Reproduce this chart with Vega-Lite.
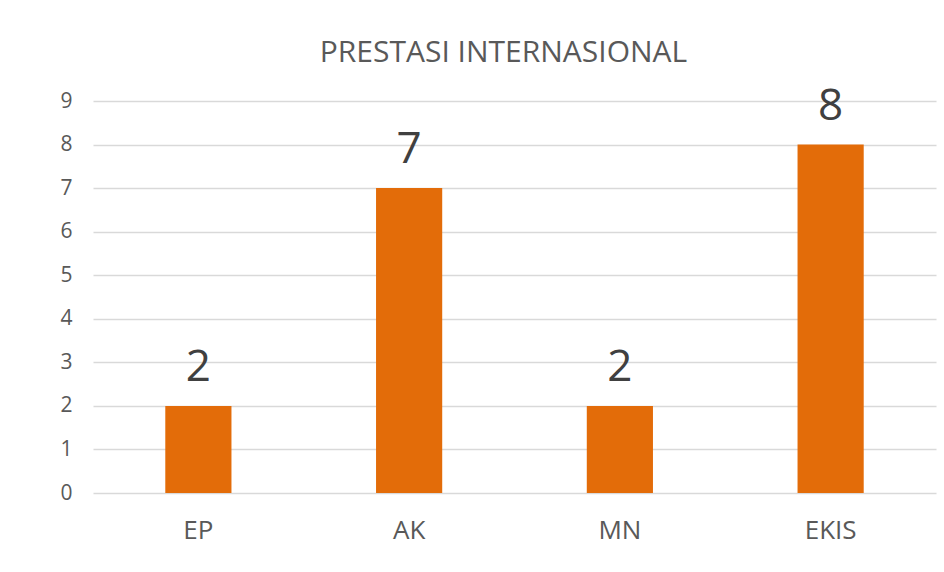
{
  "$schema": "https://vega.github.io/schema/vega-lite/v6.json",
  "width": 843,
  "height": 392,
  "autosize": {"type": "none"},
  "padding": {"left": 93, "top": 101, "right": 8, "bottom": 79},
  "background": "white",
  "config": {
    "view": {"stroke": null},
    "font": "Open Sans"
  },
  "title": {
    "text": "PRESTASI INTERNASIONAL",
    "fontSize": 30,
    "fontWeight": "normal",
    "color": "#595959",
    "font": "Open Sans",
    "anchor": "middle",
    "baseline": "alphabetic",
    "offset": 38,
    "dx": -11,
    "dy": 45
  },
  "data": {
    "values": [
      {"kategori": "EP", "nilai": 2},
      {"kategori": "AK", "nilai": 7},
      {"kategori": "MN", "nilai": 2},
      {"kategori": "EKIS", "nilai": 8}
    ]
  },
  "encoding": {
    "x": {
      "field": "kategori",
      "type": "nominal",
      "sort": null,
      "scale": {"paddingInner": 0.686, "paddingOuter": 0.343},
      "axis": {
        "title": null,
        "labelAngle": 0,
        "labelFontSize": 26,
        "labelColor": "#595959",
        "labelPadding": 24,
        "ticks": false,
        "domain": false,
        "grid": false
      }
    },
    "y": {
      "field": "nilai",
      "type": "quantitative",
      "scale": {"domain": [0, 9]},
      "axis": {
        "title": null,
        "values": [0, 1, 2, 3, 4, 5, 6, 7, 8, 9],
        "labelFontSize": 21,
        "labelColor": "#595959",
        "labelPadding": 21,
        "ticks": false,
        "domain": false,
        "grid": true,
        "gridColor": "#D9D9D9",
        "gridWidth": 1.5
      }
    }
  },
  "layer": [
    {"mark": {"type": "bar", "color": "#E36C09"}},
    {
      "mark": {"type": "text", "fontSize": 44, "color": "#404040", "baseline": "alphabetic", "dy": -25},
      "encoding": {"text": {"field": "nilai", "type": "quantitative"}}
    }
  ]
}
